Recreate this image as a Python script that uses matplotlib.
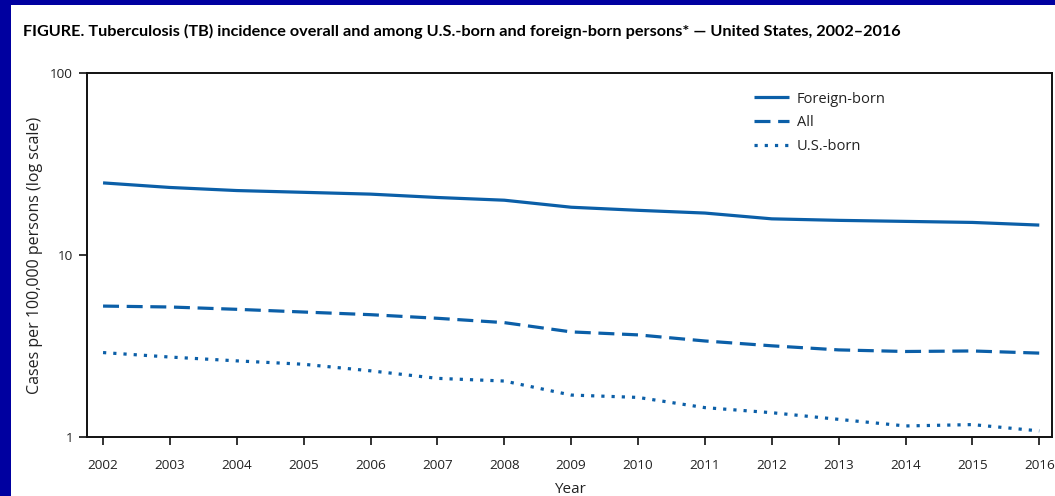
import numpy as np
import matplotlib
matplotlib.use("Agg")
from matplotlib import pyplot as plt
from matplotlib.patches import Rectangle

years = list(range(2002, 2017))
foreign_born = [24.9, 23.5, 22.6, 22.1, 21.6, 20.7, 20.0, 18.3, 17.6, 17.0, 15.8, 15.5, 15.3, 15.1, 14.6]
all_persons = [5.24, 5.18, 5.03, 4.86, 4.70, 4.49, 4.25, 3.78, 3.64, 3.37, 3.17, 3.01, 2.95, 2.97, 2.89]
us_born = [2.91, 2.75, 2.62, 2.51, 2.31, 2.10, 2.03, 1.70, 1.65, 1.45, 1.36, 1.25, 1.15, 1.17, 1.08]
y_ticks = [1, 10, 100]
y_tick_labels = ["1", "10", "100"]

line_color = "#0b5fa8"
text_color = "#222222"
plt.rcParams["font.family"] = ["Open Sans", "DejaVu Sans"]

fig = plt.figure(figsize=(10.55, 4.96), dpi=100)
fig.patch.set_facecolor("white")
# blue frame on the left and top
fig.patches.append(Rectangle((0, 0), 11 / 1055, 1, transform=fig.transFigure,
                             facecolor="#0000a0", edgecolor="none", zorder=-1))
fig.patches.append(Rectangle((0, 1 - 5 / 496), 1, 5 / 496, transform=fig.transFigure,
                             facecolor="#0000a0", edgecolor="none", zorder=-1))

ax = fig.add_axes([87 / 1055, 1 - 437 / 496, (1052 - 87) / 1055, (437 - 73) / 496])
ax.set_facecolor("white")

ax.plot(years, foreign_born, color=line_color, lw=2.3, ls="-", label="Foreign-born",
        solid_capstyle="butt")
ax.plot(years, all_persons, color=line_color, lw=2.3, ls=(0, (5.0, 2.4)), label="All",
        dash_capstyle="butt")
ax.plot(years, us_born, color=line_color, lw=2.3, ls=(0, (1.0, 2.2)), label="U.S.-born",
        dash_capstyle="butt")

ax.set_yscale("log")
ax.set_ylim(1, 100)
ax.set_xlim(2001.76, 2016.19)
ax.set_yticks(y_ticks)
ax.set_yticklabels(y_tick_labels)
ax.yaxis.set_minor_locator(matplotlib.ticker.NullLocator())
ax.set_xticks(years)
ax.set_xticklabels([str(y) for y in years])
ax.tick_params(axis="both", direction="out", length=6, width=1.2, colors="#111111",
               labelcolor=text_color, labelsize=9.7)
ax.tick_params(axis="x", pad=10)
ax.tick_params(axis="y", pad=4)
for s in ax.spines.values():
    s.set_linewidth(1.4)
    s.set_color("#111111")

ax.set_xlabel("Year", fontsize=11, color=text_color, labelpad=7)
ax.set_ylabel("Cases per 100,000 persons (log scale)", fontsize=11.5, color=text_color, labelpad=5)

leg = ax.legend(loc="upper left", bbox_to_anchor=(0.678, 0.985), frameon=False, fontsize=10.5,
                handlelength=2.4, handletextpad=0.5, labelspacing=0.6)
for t in leg.get_texts():
    t.set_color(text_color)

fig.text(23 / 1055, 1 - 31 / 496,
         "FIGURE. Tuberculosis (TB) incidence overall and among U.S.-born and foreign-born persons* \u2014 United States, 2002\u20132016",
         fontsize=11.7, fontweight="bold", family=["Lato", "DejaVu Sans"], color="black", va="center", ha="left")

fig.savefig("out.png", dpi=100, facecolor=fig.get_facecolor())
